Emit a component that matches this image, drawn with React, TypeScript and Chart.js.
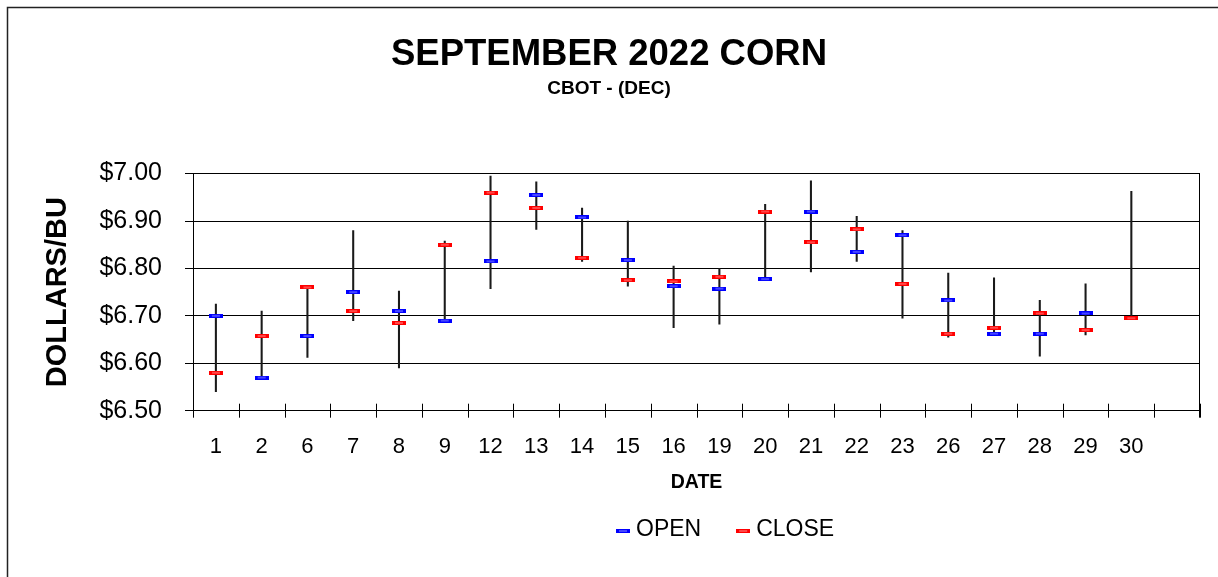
import React, { useEffect, useRef } from 'react';
import { Chart, registerables } from 'chart.js';

Chart.register(...registerables);

// ---- data ----
const dates = ['1', '2', '6', '7', '8', '9', '12', '13', '14', '15', '16', '19', '20', '21', '22', '23', '26', '27', '28', '29', '30', ''];
const openPrices = [6.70, 6.57, 6.6575, 6.75, 6.71, 6.69, 6.815, 6.955, 6.9075, 6.8175, 6.7625, 6.7575, 6.7775, 6.92, 6.835, 6.87, 6.7325, 6.6625, 6.6625, 6.705, 6.695];
const closePrices = [6.58, 6.6575, 6.76, 6.71, 6.685, 6.85, 6.96, 6.9275, 6.8225, 6.775, 6.7725, 6.7825, 6.92, 6.855, 6.8825, 6.7675, 6.6625, 6.675, 6.705, 6.67, 6.695];
const highPrices = [6.725, 6.71, 6.7625, 6.88, 6.7525, 6.8575, 6.995, 6.9825, 6.9275, 6.90, 6.805, 6.80, 6.935, 6.985, 6.91, 6.88, 6.79, 6.78, 6.7325, 6.7675, 6.9625];
const lowPrices = [6.54, 6.57, 6.6125, 6.69, 6.59, 6.69, 6.7575, 6.8825, 6.815, 6.7625, 6.675, 6.6825, 6.7775, 6.7925, 6.815, 6.695, 6.655, 6.66, 6.615, 6.66, 6.695];
const yMin = 6.5;
const yMax = 7.0;
const yStep = 0.1;

const FONT = '"Liberation Sans", Arial, Helvetica, sans-serif';

function makeMarker(fill: string, inner: string): HTMLCanvasElement {
  const c = document.createElement('canvas');
  c.width = 14;
  c.height = 4;
  const ctx = c.getContext('2d')!;
  ctx.fillStyle = fill;
  ctx.fillRect(0, 0, 14, 4);
  ctx.fillStyle = inner;
  ctx.fillRect(3, 1.5, 8, 1);
  return c;
}

const framePlugin = {
  id: 'frame',
  beforeDraw(chart: any) {
    const ctx = chart.ctx;
    ctx.save();
    ctx.fillStyle = '#ffffff';
    ctx.fillRect(0, 0, chart.width, chart.height);
    ctx.strokeStyle = '#222';
    ctx.lineWidth = 1.5;
    ctx.beginPath();
    ctx.moveTo(7.5, chart.height);
    ctx.lineTo(7.5, 7.5);
    ctx.lineTo(chart.width, 7.5);
    ctx.stroke();
    ctx.restore();
  },
};

const plotDecorPlugin = {
  id: 'plotDecor',
  afterDraw(chart: any) {
    const ctx = chart.ctx;
    const area = chart.chartArea;
    const x = chart.scales.x;
    ctx.save();
    ctx.strokeStyle = '#000';
    ctx.lineWidth = 1;
    // right border of plot
    const rx = Math.round(area.right) - 0.5;
    ctx.beginPath();
    ctx.moveTo(rx, area.top);
    ctx.lineTo(rx, area.bottom + 7);
    ctx.stroke();
    // cross tick marks on the category axis
    const n = x.getLabels().length;
    const step = x.getPixelForValue(1) - x.getPixelForValue(0);
    for (let i = 0; i <= n; i++) {
      const px = Math.round(x.getPixelForValue(i) - step / 2) + 0.5;
      ctx.beginPath();
      ctx.moveTo(px, area.bottom - 7);
      ctx.lineTo(px, area.bottom + 7);
      ctx.stroke();
    }
    ctx.restore();
  },
};

const legendPlugin = {
  id: 'customLegend',
  afterDraw(chart: any) {
    const ctx = chart.ctx;
    ctx.save();
    ctx.font = '23px ' + FONT;
    ctx.textBaseline = 'middle';
    ctx.textAlign = 'left';
    ctx.fillStyle = '#000';
    let cx = 616;
    const cy = 531;
    chart.data.datasets.forEach((ds: any) => {
      if (!ds.legendMarker) return;
      const m = ds.legendMarker as HTMLCanvasElement;
      ctx.drawImage(m, cx, cy - m.height / 2);
      const tx = cx + m.width + 6;
      ctx.fillText(ds.label, tx, cy - 1);
      cx = tx + ctx.measureText(ds.label).width + 35;
    });
    ctx.restore();
  },
};

export default function App() {
  const canvasRef = useRef<HTMLCanvasElement | null>(null);

  useEffect(() => {
    const canvas = canvasRef.current;
    if (!canvas) return;
    const blueMarker = makeMarker('#0000ff', '#8c8cff');
    const redMarker = makeMarker('#ff0000', '#ff9090');

    const chart = new Chart(canvas, {
      type: 'bar',
      data: {
        labels: dates,
        datasets: [
          {
            type: 'line',
            label: 'OPEN',
            data: openPrices,
            showLine: false,
            pointStyle: blueMarker,
            pointRadius: 3,
            order: 2,
            legendMarker: blueMarker,
          } as any,
          {
            type: 'line',
            label: 'CLOSE',
            data: closePrices,
            showLine: false,
            pointStyle: redMarker,
            pointRadius: 3,
            order: 1,
            legendMarker: redMarker,
          } as any,
          {
            type: 'bar',
            label: 'HIGH-LOW',
            data: lowPrices.map((l, i) => [l, highPrices[i]]),
            backgroundColor: '#1a1a1a',
            borderWidth: 0,
            barThickness: 1.4,
            order: 3,
          } as any,
        ],
      },
      options: {
        responsive: false,
        animation: false,
        events: [],
        layout: { padding: { left: 0, right: 0, top: 0, bottom: 0 } },
        plugins: {
          legend: { display: false },
          tooltip: { enabled: false },
          title: {
            display: true,
            text: 'SEPTEMBER 2022 CORN',
            color: '#000',
            font: { family: FONT, size: 36.5, weight: 'bold' },
            padding: { top: 33.4, bottom: 0 },
          },
          subtitle: {
            display: true,
            text: 'CBOT - (DEC)',
            color: '#000',
            font: { family: FONT, size: 19, weight: 'bold' },
            padding: { top: 0, bottom: 73.6 },
          },
        },
        scales: {
          x: {
            type: 'category',
            offset: true,
            grid: { display: false },
            border: { display: true, color: '#000', width: 1 },
            ticks: {
              color: '#000',
              font: { family: FONT, size: 22 },
              padding: 15,
              maxRotation: 0,
              autoSkip: false,
            },
            title: {
              display: true,
              text: 'DATE',
              color: '#000',
              font: { family: FONT, size: 19.5, weight: 'bold' },
              padding: { top: 0, bottom: 83 },
            },
            afterFit(scale: any) {
              scale.height = 166.3;
            },
          },
          y: {
            type: 'linear',
            position: 'left',
            min: yMin,
            max: yMax,
            grid: { color: '#000', lineWidth: 1, tickLength: 8, drawTicks: true },
            border: { display: true, color: '#000', width: 1 },
            ticks: {
              stepSize: yStep,
              color: '#000',
              font: { family: FONT, size: 25 },
              padding: 23,
              callback: (v: any) => '$' + Number(v).toFixed(2),
            },
            title: {
              display: true,
              text: 'DOLLARS/BU',
              color: '#000',
              font: { family: FONT, size: 29, weight: 'bold' },
              padding: { top: 40.6, bottom: 0 },
            },
            afterFit(scale: any) {
              scale.width = 193;
            },
          },
          yRight: {
            type: 'linear',
            position: 'right',
            display: true,
            grid: { display: false },
            border: { display: false },
            ticks: { display: false },
            afterFit(scale: any) {
              scale.width = 18;
            },
          },
        },
      } as any,
      plugins: [framePlugin, plotDecorPlugin, legendPlugin],
    });

    return () => {
      chart.destroy();
    };
  }, []);

  return (
    <div style={{ position: 'fixed', left: 0, top: 0, width: 1218, height: 577, background: '#fff' }}>
      <canvas ref={canvasRef} width={1218} height={577} style={{ display: 'block' }} />
    </div>
  );
}
